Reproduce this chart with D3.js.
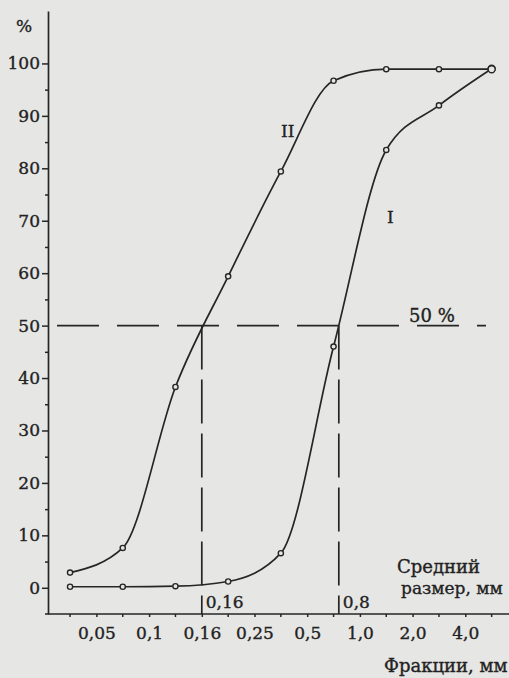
<!DOCTYPE html>
<html>
<head>
<meta charset="utf-8">
<script src="https://cdn.jsdelivr.net/npm/d3@7"></script>
<style>
  body { margin: 0; background: #e6e6e4; }
  svg { display: block; }
  text { font-family: "DejaVu Serif", serif; fill: #222; stroke: #222; stroke-width: 0.35px; }
</style>
</head>
<body>
<div id="container"></div>
<script>
/* Фракции (классы крупности) */
const fractions = ["<0,05", "0,05–0,1", "0,1–0,16", "0,16–0,25", "0,25–0,5", "0,5–1,0", "1,0–2,0", "2,0–4,0", ">4,0"];

/* Границы фракций, мм, и подписи к ним */
const boundaries = [0.05, 0.1, 0.16, 0.25, 0.5, 1.0, 2.0, 4.0];
const boundaryLabels = ["0,05", "0,1", "0,16", "0,25", "0,5", "1,0", "2,0", "4,0"];

/* Кумулятивные кривые, % */
const curveI = [0.2, 0.2, 0.3, 1.2, 6.6, 46, 83.5, 92, 99];
const curveII = [2.9, 7.6, 38.3, 59.4, 79.4, 96.7, 98.9, 98.9, 98.9];

/* Средний размер, мм */
const medians = [0.16, 0.8];
const medianLabels = ["0,16", "0,8"];

const yMajor = d3.range(0, 101, 10);
const yMinor = d3.range(5, 100, 10);

const width = 509, height = 678;
const axisX = 48, axisY = 614;
const ink = "#262626";
const fontPolice = "DejaVu Serif";

const svg = d3.select("#container").append("svg")
  .attr("width", width)
  .attr("height", height);

/* Шкалы */
const x = d3.scaleBand()
  .domain(fractions)
  .range([43.7, 43.7 + 9 * 52.7])
  .padding(0);

const cx = function(i){ return x(fractions[i]) + x.bandwidth() / 2; };

const size = d3.scaleLinear()
  .domain(boundaries)
  .range(boundaries.map(function(d, i){ return x(fractions[i]) + x.bandwidth(); }));

const y = d3.scaleLinear()
  .domain([-5, 110])
  .range([axisY, 11]);

/* Ось Y */
const yAxis = svg.append("g")
  .attr("transform", "translate(" + axisX + ",0)")
  .call(d3.axisLeft(y).tickValues(yMajor).tickSize(6).tickSizeOuter(0).tickPadding(2));
yAxis.select(".domain").attr("stroke", ink).attr("stroke-width", 1.7);
yAxis.selectAll(".tick line").attr("stroke", ink).attr("stroke-width", 1.5);
yAxis.selectAll(".tick text")
  .style("font-family", fontPolice)
  .style("font-size", "17px")
  .attr("fill", "#222");

const yMinorAxis = svg.append("g")
  .attr("transform", "translate(" + axisX + ",0)")
  .call(d3.axisLeft(y).tickValues(yMinor).tickSize(3).tickFormat(""));
yMinorAxis.select(".domain").remove();
yMinorAxis.selectAll(".tick line").attr("stroke", ink).attr("stroke-width", 1.5);

svg.append("text")
  .attr("x", 16)
  .attr("y", 32)
  .style("font-size", "17px")
  .text("%");

/* Ось X */
const xAxis = svg.append("g")
  .attr("transform", "translate(0," + axisY + ")")
  .call(d3.axisBottom(x).tickSize(3).tickSizeOuter(0).tickFormat(""));
xAxis.select(".domain").attr("stroke", ink).attr("stroke-width", 1.7)
  .attr("d", "M" + (axisX - 3) + ",0H" + width);
xAxis.selectAll(".tick line").attr("stroke", ink).attr("stroke-width", 1.5);

const xBound = svg.append("g")
  .attr("transform", "translate(0," + axisY + ")")
  .call(d3.axisBottom(size).tickValues(boundaries).tickSize(3)
    .tickFormat(function(d, i){ return boundaryLabels[i]; }));
xBound.select(".domain").remove();
xBound.selectAll(".tick line").attr("stroke", ink).attr("stroke-width", 1.5);
xBound.selectAll(".tick text")
  .attr("y", 25).attr("dy", 0)
  .style("font-family", fontPolice)
  .style("font-size", "17px")
  .attr("fill", "#222");

svg.append("text")
  .attr("x", 384)
  .attr("y", 672)
  .style("font-size", "18px")
  .text("Фракции, мм");

/* Линия 50 % и средние размеры */
svg.append("line")
  .attr("x1", 57).attr("x2", 486)
  .attr("y1", y(50)).attr("y2", y(50))
  .attr("stroke", ink).attr("stroke-width", 1.7)
  .attr("stroke-dasharray", "42,18");

svg.selectAll(".median")
  .data(medians)
  .enter().append("line")
    .attr("class", "median")
    .attr("x1", function(d){ return size(d); })
    .attr("x2", function(d){ return size(d); })
    .attr("y1", y(50))
    .attr("y2", axisY)
    .attr("stroke", ink).attr("stroke-width", 1.7)
    .attr("stroke-dasharray", "44,10");

svg.selectAll(".medianLabel")
  .data(medians)
  .enter().append("text")
    .attr("class", "medianLabel")
    .attr("x", function(d){ return size(d) + 4; })
    .attr("y", 608)
    .style("font-size", "17px")
    .text(function(d, i){ return medianLabels[i]; });

svg.append("text")
  .attr("x", 409).attr("y", 322)
  .style("font-size", "18px")
  .text("50 %");

svg.append("text")
  .attr("x", 397).attr("y", 573)
  .style("font-size", "18px")
  .text("Средний");
svg.append("text")
  .attr("x", 401).attr("y", 594)
  .style("font-size", "17px")
  .text("размер, мм");

/* Кривые */
const line = d3.line()
  .x(function(d, i){ return cx(i); })
  .y(function(d){ return y(d); })
  .curve(d3.curveMonotoneX);

[curveI, curveII].forEach(function(series, k){
  svg.append("path")
    .datum(series)
    .attr("d", line)
    .attr("fill", "none")
    .attr("stroke", ink)
    .attr("stroke-width", 1.7);

  svg.selectAll(".pt" + k)
    .data(series)
    .enter().append("circle")
      .attr("class", "pt" + k)
      .attr("cx", function(d, i){ return cx(i); })
      .attr("cy", function(d){ return y(d); })
      .attr("r", function(d, i){ return i == series.length - 1 ? 3.5 : 2.6; })
      .attr("fill", "#e6e6e4")
      .attr("stroke", ink)
      .attr("stroke-width", 1.4);
});

svg.append("text")
  .attr("x", 281).attr("y", 137)
  .style("font-size", "17px")
  .text("II");
svg.append("text")
  .attr("x", 387).attr("y", 223)
  .style("font-size", "17px")
  .text("I");
</script>
</body>
</html>
